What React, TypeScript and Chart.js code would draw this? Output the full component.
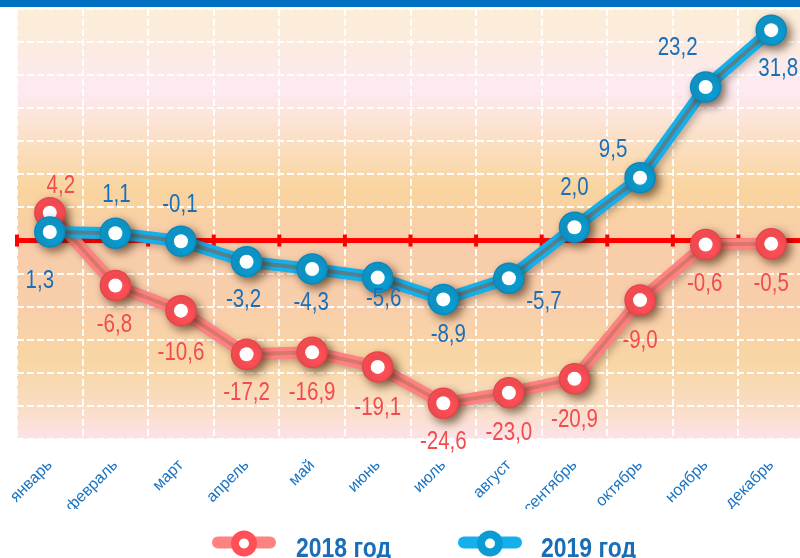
import React, { useEffect, useRef } from "react";
import { Chart, registerables } from "chart.js";
Chart.register(...registerables);

const months = ["январь", "февраль", "март", "апрель", "май", "июнь", "июль", "август", "сентябрь", "октябрь", "ноябрь", "декабрь"];
const values2018 = [4.2, -6.8, -10.6, -17.2, -16.9, -19.1, -24.6, -23.0, -20.9, -9.0, -0.6, -0.5];
const values2019 = [1.3, 1.1, -0.1, -3.2, -4.3, -5.6, -8.9, -5.7, 2.0, 9.5, 23.2, 31.8];
const seriesNames = ["2018 год", "2019 год"];
const yMin = -30;
const yMax = 35;
const yStep = 5;

// value-label placement relative to each point (dx, dy in px)
const labelOffsets2018 = [[11, -27], [-1, 40], [0, 42], [0, 39], [0, 41], [0, 41], [0, 39], [0, 40], [0, 41], [0, 41], [-1, 40], [0, 40]];
const labelOffsets2019 = [[-10, 49], [1, -38], [-1, -36], [-3, 38], [-1, 34], [6, 22], [5, 36], [35, 24], [0, -39], [-27, -28], [-28, -39], [7, 39]];

const RED_LINE = "#FF8282";
const RED_DOT = "#FF4F57";
const RED_TEXT = "#F24B50";
const BLUE_LINE = "#14B0EC";
const BLUE_DOT = "#0A9CD2";
const BLUE_TEXT = "#1B6FB9";
const SANS = '"Liberation Sans", Arial, sans-serif';
const NARROW_SCALE = 0.82;

const fmt = (v: number) => v.toFixed(1).replace(".", ",");

function narrowText(ctx: CanvasRenderingContext2D, text: string, x: number, y: number) {
  ctx.save();
  ctx.translate(x, y);
  ctx.scale(NARROW_SCALE, 1);
  ctx.fillText(text, 0, 0);
  ctx.restore();
}

const decorPlugin = {
  id: "decor",
  beforeDraw(chart: any) {
    const { ctx, chartArea, width } = chart;
    const { left, right, top, bottom } = chartArea;
    ctx.save();
    ctx.fillStyle = "#0070C0";
    ctx.fillRect(0, 0, width, 7);
    const g = ctx.createLinearGradient(0, top, 0, bottom);
    g.addColorStop(0.0, "#FBEED5");
    g.addColorStop(0.08, "#FCEBDF");
    g.addColorStop(0.19, "#FDEAF2");
    g.addColorStop(0.3, "#FBE0C6");
    g.addColorStop(0.42, "#F9D49E");
    g.addColorStop(0.55, "#F8CDAA");
    g.addColorStop(0.7, "#F8CFAA");
    g.addColorStop(0.82, "#F8D6A4");
    g.addColorStop(0.92, "#F9DDC2");
    g.addColorStop(1.0, "#FCE3E8");
    ctx.fillStyle = g;
    ctx.fillRect(left, top, right - left, bottom - top);
    ctx.restore();
  },
  beforeDatasetsDraw(chart: any) {
    const { ctx, chartArea, scales } = chart;
    const { left, right } = chartArea;
    const y = scales.y.getPixelForValue(0);
    const xs = scales.x;
    const step = xs.getPixelForValue(1) - xs.getPixelForValue(0);
    ctx.save();
    ctx.fillStyle = "#FF0000";
    ctx.fillRect(left, y - 2.5, right - left, 5);
    for (let i = 0; i <= months.length; i++) {
      const x = xs.getPixelForValue(0) - step / 2 + i * step;
      ctx.fillRect(x - 2, y - 6, 4, 12);
    }
    ctx.restore();
  },
  beforeDatasetDraw(chart: any, args: any) {
    const ds = chart.data.datasets[args.index];
    const { ctx } = chart;
    ctx.save();
    if (ds.shadowBlur) {
      ctx.shadowColor = ds.shadowColor;
      ctx.shadowBlur = ds.shadowBlur;
      ctx.shadowOffsetX = ds.shadowOffset;
      ctx.shadowOffsetY = ds.shadowOffset;
    }
  },
  afterDatasetDraw(chart: any) {
    chart.ctx.restore();
  },
  afterDatasetsDraw(chart: any) {
    const { ctx } = chart;
    ctx.save();
    ctx.font = `25px ${SANS}`;
    ctx.textAlign = "center";
    ctx.textBaseline = "middle";
    const drawLabels = (dsIndex: number, vals: number[], offs: number[][], color: string) => {
      const meta = chart.getDatasetMeta(dsIndex);
      ctx.fillStyle = color;
      meta.data.forEach((el: any, i: number) => {
        narrowText(ctx, fmt(vals[i]), el.x + offs[i][0], el.y + offs[i][1]);
      });
    };
    drawLabels(2, values2018, labelOffsets2018, RED_TEXT);
    drawLabels(6, values2019, labelOffsets2019, BLUE_TEXT);
    ctx.restore();
  },
  afterDraw(chart: any) {
    const { ctx } = chart;
    const item = (cx: number, barColor: string, dotColor: string, text: string, textX: number) => {
      ctx.save();
      ctx.fillStyle = barColor;
      ctx.beginPath();
      ctx.roundRect(cx - 32, 536.5, 64, 12, 6);
      ctx.fill();
      ctx.fillStyle = dotColor;
      ctx.beginPath();
      ctx.arc(cx, 543.5, 13, 0, Math.PI * 2);
      ctx.fill();
      ctx.fillStyle = "#FFFFFF";
      ctx.beginPath();
      ctx.arc(cx, 543.5, 5, 0, Math.PI * 2);
      ctx.fill();
      ctx.fillStyle = "#1B6DB8";
      ctx.font = `bold 28px ${SANS}`;
      ctx.textAlign = "left";
      ctx.textBaseline = "alphabetic";
      narrowText(ctx, text, textX, 557);
      ctx.restore();
    };
    item(244, RED_LINE, RED_DOT, seriesNames[0], 296);
    item(490, BLUE_LINE, BLUE_DOT, seriesNames[1], 541);
  },
};

function makeSeries(vals: number[], name: string, lineColor: string, innerColor: string, dotColor: string, dotBorder: string, baseOrder: number) {
  return [
    {
      label: name,
      data: vals,
      borderColor: lineColor,
      borderWidth: 12,
      pointRadius: 0,
      fill: false,
      tension: 0,
      order: baseOrder + 3,
      clip: false,
      shadowColor: "rgba(70,35,15,0.3)",
      shadowBlur: 7,
      shadowOffset: 3,
    },
    {
      label: name + " inner",
      data: vals,
      borderColor: innerColor,
      borderWidth: 4,
      pointRadius: 0,
      fill: false,
      tension: 0,
      order: baseOrder + 2,
      clip: false,
    },
    {
      label: name + " points",
      data: vals,
      showLine: false,
      pointRadius: 15,
      pointBackgroundColor: dotColor,
      pointBorderColor: dotBorder,
      pointBorderWidth: 1.5,
      order: baseOrder + 1,
      clip: false,
      shadowColor: "rgba(60,30,10,0.6)",
      shadowBlur: 9,
      shadowOffset: 4,
    },
    {
      label: name + " centers",
      data: vals,
      showLine: false,
      pointRadius: 7,
      pointBackgroundColor: "#FFFFFF",
      pointBorderWidth: 0,
      order: baseOrder,
      clip: false,
    },
  ];
}

export default function App() {
  const ref = useRef<HTMLCanvasElement | null>(null);
  useEffect(() => {
    if (!ref.current) return;
    const chart = new Chart(ref.current, {
      type: "line",
      data: {
        labels: months,
        datasets: [
          ...makeSeries(values2018, seriesNames[0], RED_LINE, "rgba(190,110,90,0.55)", RED_DOT, "#E8444C", 5),
          ...makeSeries(values2019, seriesNames[1], BLUE_LINE, "rgba(125,100,80,0.6)", BLUE_DOT, "#0A88BE", 1),
        ] as any,
      },
      options: {
        responsive: false,
        animation: false,
        devicePixelRatio: 1,
        layout: { autoPadding: false, padding: { left: 17, right: 6, top: 9, bottom: 49 } },
        plugins: { legend: { display: false }, tooltip: { enabled: false } },
        scales: {
          x: {
            offset: true,
            grid: {
              offset: true,
              color: "rgba(255,255,255,0.95)",
              lineWidth: 2,
              drawTicks: false,
            },
            border: { display: false, dash: [7, 3] },
            ticks: {
              color: "#1A73C0",
              font: { family: SANS, size: 16 },
              minRotation: 45,
              maxRotation: 45,
              padding: 17,
              autoSkip: false,
            },
            afterFit: (s: any) => {
              s.height = 70;
              s.paddingLeft = 0;
              s.paddingRight = 0;
            },
          },
          y: {
            min: yMin,
            max: yMax,
            ticks: { stepSize: yStep, display: false },
            grid: { color: "rgba(255,255,255,0.95)", lineWidth: 2, drawTicks: false },
            border: { display: false, dash: [7, 3] },
            afterFit: (s: any) => {
              s.width = 0;
              s.paddingTop = 0;
              s.paddingBottom = 0;
            },
          },
        },
      } as any,
      plugins: [decorPlugin],
    });
    return () => chart.destroy();
  }, []);
  return (
    <div style={{ position: "fixed", left: 0, top: 0, width: 800, height: 558, overflow: "hidden", background: "#fff" }}>
      <canvas ref={ref} width={810} height={558} style={{ display: "block" }} />
    </div>
  );
}
